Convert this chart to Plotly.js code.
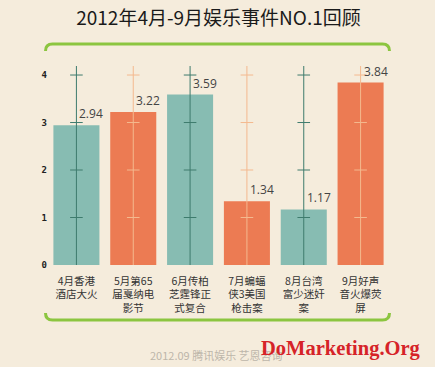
<!DOCTYPE html>
<html><head><meta charset="utf-8">
<script src="https://cdn.plot.ly/plotly-3.0.1.min.js"></script>
<style>html,body{margin:0;padding:0;background:#F5ECDC;}#chart{width:435px;height:367px;}</style>
</head><body><div id="chart"></div>
<script>
var categories = ["4月香港<br>酒店大火","5月第65<br>届戛纳电<br>影节","6月传柏<br>芝霆锋正<br>式复合","7月蝙蝠<br>侠3美国<br>枪击案","8月台湾<br>富少迷奸<br>案","9月好声<br>音火爆荧<br>屏"];
var values = [2.94, 3.22, 3.59, 1.34, 1.17, 3.84];
var valueLabels = ["2.94","3.22","3.59","1.34","1.17","3.84"];
var tickValues = [0,1,2,3,4];
var barColors = ["#87BCB2","#EC7B53","#87BCB2","#EC7B53","#87BCB2","#EC7B53"];
var lineColors = ["#3E7B6D","#F4B98F","#3E7B6D","#F4B98F","#3E7B6D","#F4B98F"];
var yMax = 4.19;

var W=435,H=367, mL=47.5, mR=45.5, mT=66, mB=102;
var pw=W-mL-mR, ph=H-mT-mB;
function px(x){return (x-mL)/pw;}
function py(y){return (H-mB-y)/ph;}

var traces=[{type:'bar',x:categories,y:values,marker:{color:barColors},hoverinfo:'none',width:0.81}];
categories.forEach(function(c,i){
  traces.push({type:'scatter',mode:'lines',x:[c,c],y:[0,yMax],line:{color:lineColors[i],width:1},hoverinfo:'none'});
  traces.push({type:'scatter',mode:'markers',x:tickValues.slice(1).map(function(){return c;}),y:tickValues.slice(1),
    marker:{symbol:'line-ew-open',size:9,color:lineColors[i],line:{color:lineColors[i],width:1}},hoverinfo:'none'});
});

var ann = values.map(function(v,i){return {x:categories[i],y:v,text:valueLabels[i],xanchor:'left',yanchor:'bottom',xshift:1,yshift:1,showarrow:false,font:{family:'Open Sans, Noto Sans',size:12,color:'#444'}};});
ann.push({xref:'paper',yref:'paper',x:px(216),y:py(355),text:'2012.09 腾讯娱乐 艺恩咨询',showarrow:false,xanchor:'center',yanchor:'middle',font:{family:'Noto Sans CJK SC',size:11,color:'#BDB6AA'}});
ann.push({xref:'paper',yref:'paper',x:px(259),y:py(348),text:'<b>DoMarketing.Org</b>',showarrow:false,xanchor:'left',yanchor:'middle',font:{family:'Liberation Serif',size:20.5,color:'#D62328'}});

function bracket(yLine,yEnd){
  var x0=px(45),x1=px(390),rx=7/pw;
  var a=py(yLine),b=py(yEnd);
  return {type:'path',xref:'paper',yref:'paper',
    path:'M'+x0+','+b+' Q'+x0+','+a+' '+(x0+rx)+','+a+' L'+(x1-rx)+','+a+' Q'+x1+','+a+' '+x1+','+b,
    line:{color:'#8CC540',width:3}};
}

var layout={
  width:W,height:H,margin:{l:mL,r:mR,t:mT,b:mB,pad:0},
  paper_bgcolor:'#F5ECDC',plot_bgcolor:'#F5ECDC',showlegend:false,
  title:{text:'2012年4月-9月娱乐事件NO.1回顾',x:0.5,xref:'paper',xanchor:'center',y:1-18/H,yref:'container',yanchor:'middle',font:{family:'Noto Sans CJK SC',size:19,color:'#1a1a1a'}},
  xaxis:{type:'category',range:[-0.5,5.5],showgrid:false,zeroline:false,showline:false,ticks:'',ticklabelstandoff:8,tickfont:{family:'Noto Sans CJK SC',size:10.5,color:'#333'},fixedrange:true},
  yaxis:{range:[0,yMax],tickvals:tickValues,ticktext:tickValues.map(String),showgrid:false,zeroline:false,showline:false,ticks:'',tickfont:{family:'DejaVu Sans Mono',size:9,color:'#222',weight:'bold'},fixedrange:true},
  shapes:[bracket(44,51),bracket(320,313)],
  annotations:ann
};
Plotly.newPlot('chart',traces,layout,{displayModeBar:false,staticPlot:true});
</script></body></html>
